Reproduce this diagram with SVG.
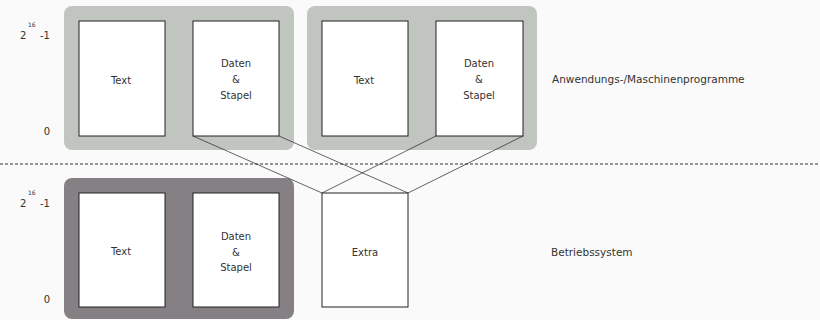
<svg xmlns="http://www.w3.org/2000/svg" width="820" height="320" viewBox="0 0 820 320">
<style>
.bg{fill:#fafafa}
.grpA{fill:#c1c5bf}
.grpB{fill:#858083}
.box{fill:#ffffff;stroke:#222;stroke-width:1}
.t{font-family:"DejaVu Sans",sans-serif;font-size:10px;fill:#333;text-anchor:middle}
.l{font-family:"DejaVu Sans",sans-serif;font-size:10px;fill:#333}
.r{font-family:"DejaVu Sans",sans-serif;font-size:10.5px;fill:#333}
.sup{font-family:"DejaVu Sans",sans-serif;font-size:6px;fill:#333}
.con{stroke:#222;stroke-width:0.7;fill:none}
.dash{stroke:#333;stroke-width:1;stroke-dasharray:3 2;fill:none}
</style>
<rect class="bg" x="0" y="0" width="820" height="320"/>
<g id="group-app1">
<rect class="grpA" x="64" y="6" width="230" height="144" rx="8"/>
</g>
<g id="group-app2">
<rect class="grpA" x="307" y="6" width="230" height="144" rx="8"/>
</g>
<g id="group-os">
<rect class="grpB" x="64" y="178" width="230" height="141" rx="8"/>
</g>
<g id="connectors">
<line class="dash" x1="0" y1="164" x2="820" y2="164"/>
<line class="con" x1="193" y1="136" x2="322" y2="193"/>
<line class="con" x1="279" y1="136" x2="408" y2="193"/>
<line class="con" x1="436" y1="136" x2="322" y2="193"/>
<line class="con" x1="523" y1="136" x2="408" y2="193"/>
</g>
<g id="app1-text">
<rect class="box" x="79" y="21" width="86" height="115"/>
<text class="t" x="121" y="84">Text</text>
</g>
<g id="app1-data">
<rect class="box" x="193" y="21" width="86" height="115"/>
<text class="t" x="236" y="67">Daten</text>
<text class="t" x="236" y="83">&amp;</text>
<text class="t" x="236" y="99">Stapel</text>
</g>
<g id="app2-text">
<rect class="box" x="322" y="21" width="86" height="115"/>
<text class="t" x="364" y="84">Text</text>
</g>
<g id="app2-data">
<rect class="box" x="436" y="21" width="87" height="115"/>
<text class="t" x="479" y="67">Daten</text>
<text class="t" x="479" y="83">&amp;</text>
<text class="t" x="479" y="99">Stapel</text>
</g>
<g id="os-text">
<rect class="box" x="79" y="193" width="86" height="114"/>
<text class="t" x="121" y="255">Text</text>
</g>
<g id="os-data">
<rect class="box" x="193" y="193" width="86" height="114"/>
<text class="t" x="236" y="239.5">Daten</text>
<text class="t" x="236" y="255.5">&amp;</text>
<text class="t" x="236" y="271">Stapel</text>
</g>
<g id="extra">
<rect class="box" x="322" y="193" width="86" height="114"/>
<text class="t" x="365" y="256">Extra</text>
</g>
<g id="labels">
<text class="l" x="20" y="39">2</text>
<text class="sup" x="28" y="27">16</text>
<text class="l" x="40" y="39">-1</text>
<text class="t" x="47" y="135">0</text>
<text class="l" x="20" y="207">2</text>
<text class="sup" x="28" y="195">16</text>
<text class="l" x="40" y="207">-1</text>
<text class="t" x="47" y="303">0</text>
<text class="r" x="552" y="83">Anwendungs-/Maschinenprogramme</text>
<text class="r" x="551" y="256">Betriebssystem</text>
</g>
</svg>
